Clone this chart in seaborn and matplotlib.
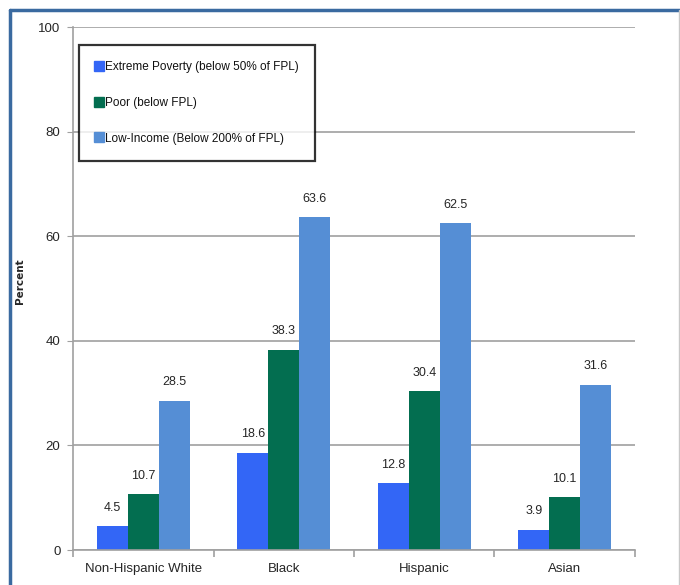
import numpy as np
import pandas as pd
import matplotlib
matplotlib.use("Agg")
import matplotlib.pyplot as plt
from matplotlib.lines import Line2D
from matplotlib.ticker import FixedLocator
import seaborn as sns

# data
groups = ["Non-Hispanic White", "Black", "Hispanic", "Asian"]
series = ["Extreme Poverty (below 50% of FPL)",
          "Poor (below FPL)",
          "Low-Income (Below 200% of FPL)"]
extreme = [4.5, 18.6, 12.8, 3.9]
poor = [10.7, 38.3, 30.4, 10.1]
low_income = [28.5, 63.6, 62.5, 31.6]
colors = ["#3366f6", "#036e50", "#558ed5"]

df = pd.DataFrame({
    "group": groups * 3,
    "series": np.repeat(series, len(groups)),
    "value": extreme + poor + low_income,
})

sns.set_style("white")
plt.rcParams["font.family"] = ["Liberation Sans", "DejaVu Sans"]

fig = plt.figure(figsize=(6.8, 5.85), dpi=100)
ax = fig.add_axes([0.1074, 0.0598, 0.8264, 0.894])

sns.barplot(data=df, x="group", y="value", hue="series", order=groups,
            hue_order=series, palette=colors, width=0.66, gap=0,
            saturation=1, linewidth=0, ax=ax, legend=False)

for cont in ax.containers:
    ax.bar_label(cont, fmt="%.1f", padding=9, fontsize=9)

ax.set_ylim(0, 100)
ax.set_yticks(range(0, 101, 20))
ax.set_xlim(-0.5, len(groups) - 0.5)
ax.yaxis.grid(True, color="#a0a0a0", linewidth=1.2)
ax.set_axisbelow(True)
for s in ["top", "right"]:
    ax.spines[s].set_visible(False)
for s in ["left", "bottom"]:
    ax.spines[s].set_color("#a0a0a0")
    ax.spines[s].set_linewidth(1.2)

ax.tick_params(axis="y", left=True, length=4, color="#a0a0a0",
               labelsize=9.5, pad=5)
ax.tick_params(axis="x", which="major", length=0, labelsize=9.5, pad=9)
ax.xaxis.set_minor_locator(FixedLocator(np.arange(-0.5, len(groups), 1.0)))
ax.tick_params(axis="x", which="minor", bottom=True, length=5,
               color="#a0a0a0", width=1.2)
ax.set_xlabel("")
ax.set_ylabel("")
fig.text(0.03, 0.52, "Percent", rotation=90, fontsize=7.5,
         fontweight="bold", ha="center", va="center",
         family=["DejaVu Sans"])

handles = [Line2D([], [], marker="s", linestyle="", markersize=6.5,
                  markerfacecolor=c, markeredgecolor=c) for c in colors]
leg = ax.legend(handles, series, loc="upper left",
                bbox_to_anchor=(0.011, 0.966), fontsize=8.5,
                frameon=True, fancybox=False, borderpad=1.4,
                labelspacing=2.0, handlelength=0.6, handletextpad=0.2,
                borderaxespad=0)
leg.get_frame().set_edgecolor("black")
leg.get_frame().set_linewidth(1.6)
for t in leg.get_texts():
    t.set_color("#111111")

# outer frame of the slide
fig.add_artist(Line2D([0.015, 0.015], [0.0, 0.983], transform=fig.transFigure,
                      color="#3a6aa0", linewidth=2.5))
fig.add_artist(Line2D([0.015, 1.0], [0.983, 0.983], transform=fig.transFigure,
                      color="#3a6aa0", linewidth=2.5))
fig.add_artist(Line2D([0.998, 0.998], [0.0, 0.983], transform=fig.transFigure,
                      color="#c8c8c8", linewidth=1))

fig.savefig("out.png", dpi=100)
